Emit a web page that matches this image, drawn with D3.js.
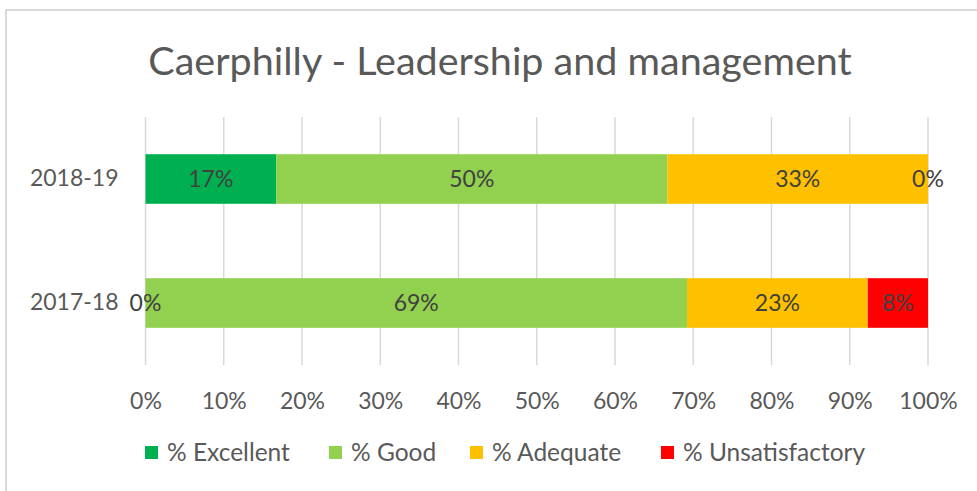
<!DOCTYPE html>
<html>
<head>
<meta charset="utf-8">
<script src="https://cdn.jsdelivr.net/npm/d3@7"></script>
<style>
    body { margin: 0; background: #fff; }
    text { font-family: Lato, "Open Sans", sans-serif; }
</style>
</head>
<body>
<svg id="chart"></svg>
<script>
    var categories = ["2018-19", "2017-18"];
    var seriesNames = ["% Excellent", "% Good", "% Adequate", "% Unsatisfactory"];
    var excellent = [16.7, 0];
    var good = [50, 69.2];
    var adequate = [33.3, 23.1];
    var unsatisfactory = [0, 7.7];
    var tickValues = [0, 10, 20, 30, 40, 50, 60, 70, 80, 90, 100];
    var colours = ["#00b050", "#92d050", "#ffc000", "#ff0000"];

    var width = 977,
        height = 491;

    var svg = d3.select("svg#chart")
        .attr("width", width)
        .attr("height", height);

    // chart area frame
    svg.append("rect")
        .attr("x", 6)
        .attr("y", 10)
        .attr("width", 1000)
        .attr("height", 500)
        .style("fill", "#fff")
        .style("stroke", "#d9d9d9")
        .style("stroke-width", 2);

    svg.append("text")
        .attr("x", 500)
        .attr("y", 75)
        .attr("text-anchor", "middle")
        .style("font-size", "39.5px")
        .style("fill", "#595959")
        .text("Caerphilly - Leadership and management");

    var x = d3.scaleLinear()
        .domain([0, 100])
        .range([145.5, 928]);

    var y = d3.scaleBand()
        .domain(categories)
        .range([117, 365])
        .paddingInner(0.6)
        .paddingOuter(0.3);

    // gridlines
    svg.append("g")
        .selectAll("line")
        .data(tickValues)
        .enter()
        .append("line")
            .attr("x1", function(d) { return x(d); })
            .attr("x2", function(d) { return x(d); })
            .attr("y1", 117)
            .attr("y2", 365)
            .style("stroke", "#d9d9d9")
            .style("stroke-width", 1.5);

    var xAxis = svg.append("g")
        .attr("transform", "translate(0,365)")
        .call(d3.axisBottom(x)
            .tickValues(tickValues)
            .tickSize(0)
            .tickPadding(28)
            .tickFormat(function(d) { return d + "%"; }));
    xAxis.select(".domain").remove();
    xAxis.selectAll("text")
        .style("font-family", "Lato, sans-serif")
        .style("font-size", "23px")
        .style("fill", "#595959");

    var yAxis = svg.append("g")
        .attr("transform", "translate(145.5,0)")
        .call(d3.axisLeft(y).tickSize(0).tickPadding(27));
    yAxis.select(".domain").remove();
    yAxis.selectAll("text")
        .style("font-family", "Lato, sans-serif")
        .style("font-size", "23px")
        .style("fill", "#595959");

    var rows = categories.map(function(c, i) {
        return {
            category: c,
            "% Excellent": excellent[i],
            "% Good": good[i],
            "% Adequate": adequate[i],
            "% Unsatisfactory": unsatisfactory[i]
        };
    });

    var stacked = d3.stack().keys(seriesNames)(rows);

    var layer = svg.selectAll("g.layer")
        .data(stacked)
        .enter()
        .append("g")
            .attr("class", "layer")
            .style("fill", function(d, i) { return colours[i]; });

    layer.selectAll("rect")
        .data(function(d) { return d; })
        .enter()
        .append("rect")
            .attr("x", function(d) { return x(d[0]); })
            .attr("y", function(d) { return y(d.data.category); })
            .attr("width", function(d) { return x(d[1]) - x(d[0]); })
            .attr("height", y.bandwidth());

    var labels = svg.append("g");
    stacked.forEach(function(s) {
        labels.selectAll(null)
            .data(s)
            .enter()
            .append("text")
                .attr("x", function(d) { return (x(d[0]) + x(d[1])) / 2; })
                .attr("y", function(d) { return y(d.data.category) + y.bandwidth() / 2; })
                .attr("dy", "0.36em")
                .attr("text-anchor", "middle")
                .style("font-size", "23px")
                .style("fill", "#404040")
                .text(function(d) { return Math.round(d[1] - d[0]) + "%"; });
    });

    // legend
    var legendX = [145, 329, 470, 661];
    var legend = svg.selectAll("g.legend")
        .data(seriesNames)
        .enter()
        .append("g")
            .attr("class", "legend")
            .attr("transform", function(d, i) { return "translate(" + [legendX[i], 446] + ")"; });

    legend.append("rect")
        .attr("width", 13)
        .attr("height", 13)
        .style("fill", function(d, i) { return colours[i]; });

    legend.append("text")
        .attr("x", 22)
        .attr("y", 6.5)
        .attr("dy", "0.36em")
        .style("font-size", "24.5px")
        .style("fill", "#595959")
        .text(function(d) { return d; });
</script>
</body>
</html>
